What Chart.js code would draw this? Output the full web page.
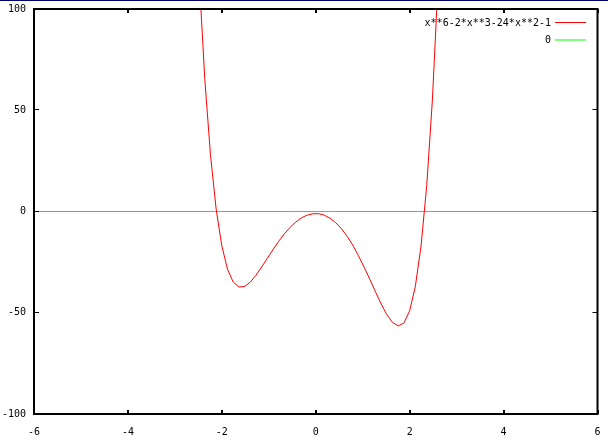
<!DOCTYPE html>
<html>
<head>
<meta charset="utf-8">
<script src="https://cdn.jsdelivr.net/npm/chart.js@4"></script>
<style>
  html, body { margin: 0; padding: 0; background: #fff; }
  canvas { display: block; }
</style>
</head>
<body>
<canvas id="plot" width="608" height="440"></canvas>
<script>
const curveX = [-2.485, -2.364, -2.242, -2.121, -2.000, -1.879, -1.758, -1.636, -1.515, -1.394,
                -1.273, -1.152, -1.030, -0.909, -0.788, -0.667, -0.545, -0.424, -0.303, -0.182,
                -0.061, 0.061, 0.182, 0.303, 0.424, 0.545, 0.667, 0.788, 0.909, 1.030,
                1.152, 1.273, 1.394, 1.515, 1.636, 1.758, 1.879, 2.000, 2.121, 2.242,
                2.364, 2.485, 2.606];
const curveY = [116.9, 65.7, 28.0, 1.2, -17.0, -28.5, -34.8, -37.3, -37.0, -34.9,
                -31.5, -27.4, -23.1, -18.8, -14.7, -11.0, -7.8, -5.2, -3.1, -1.8,
                -1.1, -1.1, -1.8, -3.3, -5.5, -8.4, -12.2, -16.6, -21.8, -27.5,
                -33.5, -39.7, -45.7, -51.0, -54.8, -56.5, -55.0, -49.0, -37.0, -17.1,
                12.9, 55.5, 113.9];
const zeroX = [-6, 6];
const zeroY = [0, 0];

const xTicks = [-6, -4, -2, 0, 2, 4, 6];
const yTicks = [-100, -50, 0, 50, 100];
const seriesNames = ['x**6-2*x**3-24*x**2-1', '0'];

const FONT = '10px "DejaVu Sans Mono", monospace';

const toPoints = (xs, ys) => xs.map((x, i) => ({ x: x, y: ys[i] }));

// no extra room for overhanging tick labels, the layout padding does it
const noOverhang = s => {
    s.paddingTop = 0; s.paddingBottom = 0;
    s.paddingLeft = 0; s.paddingRight = 0;
};

// frame, inward ticks, legend and the navy strip on top
const gnuplotLook = {
    id: 'gnuplotLook',
    beforeDraw(chart) {
        const ctx = chart.ctx;
        ctx.save();
        ctx.fillStyle = '#000066';
        ctx.fillRect(0, 0, chart.width, 1);
        ctx.restore();
    },
    afterDatasetsDraw(chart) {
        const ctx = chart.ctx;
        const a = chart.chartArea;
        const sx = chart.scales.x, sy = chart.scales.y;
        ctx.save();
        ctx.strokeStyle = '#000';
        ctx.lineWidth = 2;
        ctx.strokeRect(a.left, a.top, a.right - a.left, a.bottom - a.top);

        ctx.lineWidth = 2;
        xTicks.forEach(v => {
            const px = Math.round(sx.getPixelForValue(v));
            ctx.beginPath();
            ctx.moveTo(px, a.bottom); ctx.lineTo(px, a.bottom - 4);
            ctx.moveTo(px, a.top); ctx.lineTo(px, a.top + 4);
            ctx.stroke();
        });
        ctx.lineWidth = 1;
        yTicks.forEach(v => {
            const py = Math.round(sy.getPixelForValue(v)) - 0.5;
            ctx.beginPath();
            ctx.moveTo(a.left, py); ctx.lineTo(a.left + 5, py);
            ctx.moveTo(a.right, py); ctx.lineTo(a.right - 5, py);
            ctx.stroke();
        });

        // legend: text right aligned, sample line to the right
        ctx.font = FONT;
        ctx.textAlign = 'right';
        ctx.textBaseline = 'middle';
        chart.data.datasets.forEach((ds, i) => {
            const y = 22.5 + i * 17.5;
            ctx.fillStyle = '#000';
            ctx.fillText(ds.label, 551, y + 0.5);
            ctx.strokeStyle = ds.borderColor;
            ctx.lineWidth = 1;
            ctx.beginPath();
            ctx.moveTo(555, y); ctx.lineTo(586, y);
            ctx.stroke();
        });
        ctx.restore();
    }
};

new Chart(document.getElementById('plot'), {
    type: 'line',
    data: {
        datasets: [
            {
                label: seriesNames[0],
                data: toPoints(curveX, curveY),
                borderColor: '#ff0000',
                borderWidth: 1,
                pointRadius: 0,
                tension: 0
            },
            {
                label: seriesNames[1],
                data: toPoints(zeroX, zeroY),
                borderColor: '#00ff00',
                borderWidth: 1,
                pointRadius: 0,
                tension: 0
            }
        ]
    },
    options: {
        responsive: false,
        animation: false,
        events: [],
        layout: { padding: { top: 9, right: 10.5, left: 0, bottom: 0 } },
        plugins: {
            legend: { display: false },
            tooltip: { enabled: false }
        },
        scales: {
            x: {
                type: 'linear',
                min: -6,
                max: 6,
                afterBuildTicks: s => { s.ticks = xTicks.map(v => ({ value: v })); },
                afterFit: s => { s.height = 26; noOverhang(s); },
                grid: { display: false, drawTicks: false },
                border: { display: false },
                ticks: {
                    color: '#000',
                    font: { family: '"DejaVu Sans Mono", monospace', size: 10 },
                    padding: 12,
                    maxRotation: 0
                }
            },
            y: {
                min: -100,
                max: 100,
                afterBuildTicks: s => { s.ticks = yTicks.map(v => ({ value: v })); },
                afterFit: s => { s.width = 34; noOverhang(s); },
                grid: { display: false, drawTicks: false },
                border: { display: false },
                ticks: {
                    color: '#000',
                    font: { family: '"DejaVu Sans Mono", monospace', size: 10 },
                    padding: 8
                }
            }
        }
    },
    plugins: [gnuplotLook]
});
</script>
</body>
</html>
